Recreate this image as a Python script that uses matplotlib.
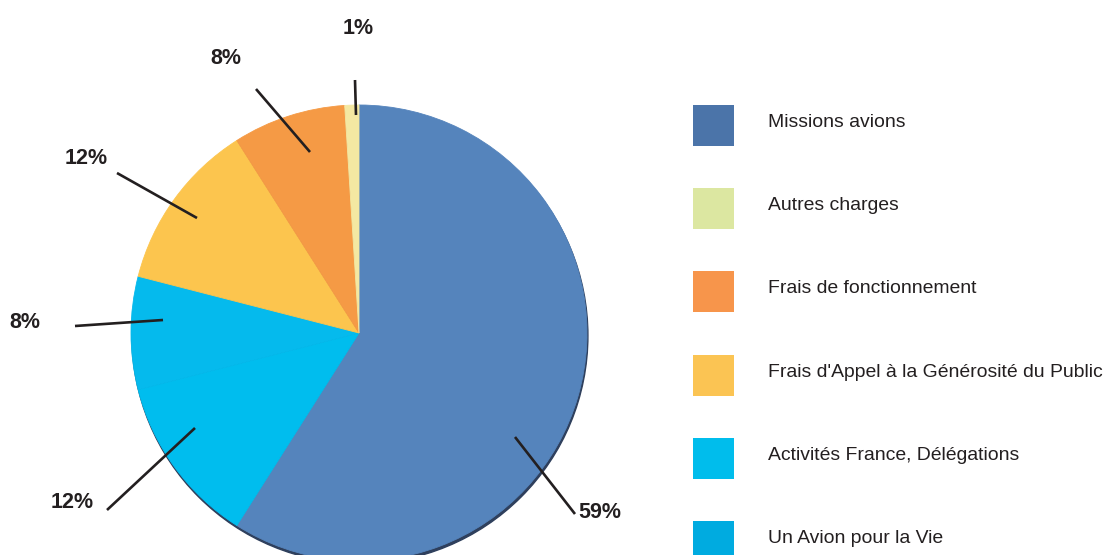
import numpy as np
import matplotlib
matplotlib.use("Agg")
import matplotlib.pyplot as plt
from matplotlib.patches import Rectangle

plt.rcParams['font.family'] = ['Liberation Sans', 'DejaVu Sans']

# slices, clockwise from the top
slice_values = [59, 12, 8, 12, 8, 1]
slice_labels = ["59%", "12%", "8%", "12%", "8%", "1%"]
slice_colors = ["#5584BC", "#00BDEE", "#05BAED", "#FCC54E", "#F59A45", "#F4E8A2"]

legend_labels = ["Missions avions", "Autres charges", "Frais de fonctionnement",
                 "Frais d'Appel à la Générosité du Public",
                 "Activités France, Délégations", "Un Avion pour la Vie"]
legend_colors = ["#4B74A9", "#DCE7A1", "#F7954B", "#FBC453", "#00BDEC", "#00ABE0"]

W, H = 1108, 555
CX, CY, R = 359, 333, 228


def px(x, y):
    # pixel position -> data units (pie radius = 1)
    return (x - CX) / R, (CY - y) / R


fig = plt.figure(figsize=(W / 100, H / 100), dpi=100)
ax = fig.add_axes([0, 0, 1, 1])
ax.axis("off")

# soft shadow under the pie
ax.add_patch(plt.Circle((0.004, -0.012), 1.0, color="#2E3F5C", zorder=0))
wedges, _ = ax.pie(slice_values, colors=slice_colors, startangle=90,
                   counterclock=False, radius=1.0, center=(0, 0))
for w, c in zip(wedges, slice_colors):
    w.set_edgecolor(c)
    w.set_linewidth(0.6)
ax.set_xlim(-CX / R, (W - CX) / R)
ax.set_ylim(-(H - CY) / R, CY / R)
ax.set_aspect("equal")

# callouts: (line start, line end, text position) in pixels
callouts = [((515, 437), (575, 514), (600, 513)),
            ((195, 428), (107, 510), (72, 503)),
            ((163, 320), (75, 326), (25, 323)),
            ((197, 218), (117, 173), (86, 158)),
            ((310, 152), (256, 89), (226, 58)),
            ((356, 115), (355, 80), (358, 29))]
for lab, (a, b, t) in zip(slice_labels, callouts):
    (x0, y0), (x1, y1) = px(*a), px(*b)
    ax.plot([x0, x1], [y0, y1], color="#231F20", lw=1.9, solid_capstyle="butt")
    ax.text(*px(*t), lab, ha="center", va="center", fontsize=15.5,
            fontweight="bold", color="#231F20")

# legend
texts = []
for i, (lab, col) in enumerate(zip(legend_labels, legend_colors)):
    top = 105 + i * 83.2
    x0, y0 = px(693, top + 41)
    ax.add_patch(Rectangle((x0, y0), 41 / R, 41 / R, color=col, lw=0))
    texts.append(ax.text(*px(768, top + 22), lab, ha="left", va="baseline",
                         fontsize=17, color="#231F20"))

# shrink legend text so the longest label ends near the right edge
renderer = fig.canvas.get_renderer()
widest = max(t.get_window_extent(renderer).width for t in texts)
size = 17 * 336 / widest
for t in texts:
    t.set_fontsize(size)

fig.savefig("out.png", dpi=100)
